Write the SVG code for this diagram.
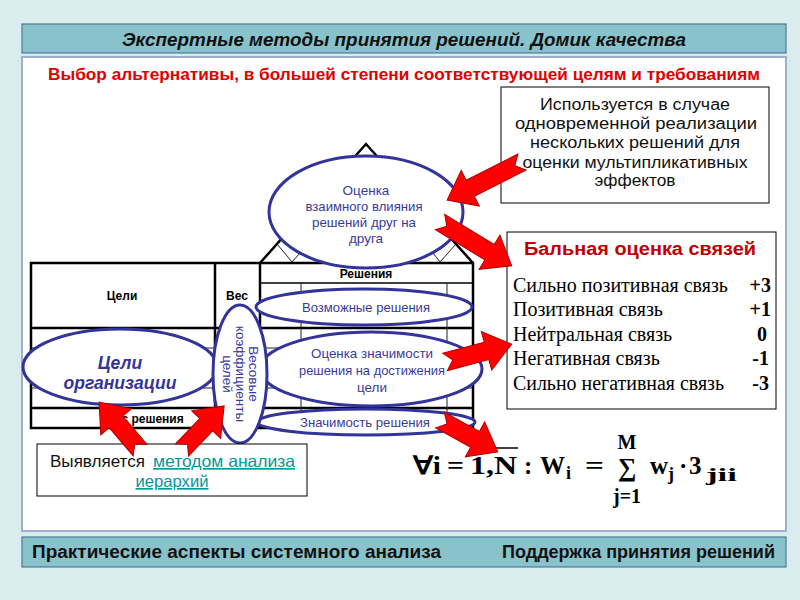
<svg xmlns="http://www.w3.org/2000/svg" width="800" height="600" viewBox="0 0 800 600">
<style>
.bar{fill:#88c3cc;stroke:#4a7d96;stroke-width:1.2}
.hdr{font-family:"Liberation Sans",Arial,sans-serif;font-weight:bold;fill:#111}
.tb{fill:none;stroke:#000;stroke-width:2.5}
.tt{fill:none;stroke:#222;stroke-width:1}
.th{font-family:"Liberation Sans",Arial,sans-serif;font-weight:bold;font-size:12px;fill:#000;text-anchor:middle}
.el{fill:#fff;stroke:#333399;stroke-width:3}
.et{font-family:"Liberation Sans",Arial,sans-serif;font-size:13.5px;fill:#3a3a99;text-anchor:middle}
.arr{fill:#ff0000;stroke:#b00000;stroke-width:1}
.box{fill:#fff;stroke:#000;stroke-width:1}
.bt{font-family:"Liberation Sans",Arial,sans-serif;font-size:16px;fill:#111;text-anchor:middle}
.sr{font-family:"Liberation Serif","Times New Roman",serif;font-size:20px;fill:#000}
.fm{font-family:"Liberation Serif","Times New Roman",serif;font-weight:bold;fill:#000}
.lk{font-family:"Liberation Sans",Arial,sans-serif;font-size:16.5px;fill:#009999;text-decoration:underline}
</style>
<rect x="0" y="0" width="800" height="600" fill="#dbecef"/>
<g id="title">
<rect class="bar" x="22" y="24" width="764" height="29"/>
<text class="hdr" x="404" y="46" font-size="19" font-style="italic" text-anchor="middle" textLength="564" lengthAdjust="spacingAndGlyphs">Экспертные методы принятия решений. Домик качества</text>
</g>
<rect x="22" y="57" width="764" height="474" fill="#fff" stroke="#8799c4" stroke-width="1.5"/>
<text x="404" y="80" font-family="Liberation Sans,Arial,sans-serif" font-weight="bold" font-size="16.5" fill="#e00000" text-anchor="middle" textLength="712" lengthAdjust="spacingAndGlyphs">Выбор альтернативы, в большей степени соответствующей целям и требованиям</text>

<g id="house">
<polyline class="tb" points="260,263 366,144 473,263"/>
<polyline class="tt" points="277,244 292,262 300,253"/>
<polyline class="tt" points="433,253 440,262 456,244"/>
<rect class="tb" x="31" y="263" width="442" height="165"/>
<line class="tb" x1="215" y1="263" x2="215" y2="408"/>
<line class="tb" x1="260" y1="263" x2="260" y2="428"/>
<line x1="260" y1="283" x2="473" y2="283" stroke="#000" stroke-width="1.5"/>
<line class="tb" x1="31" y1="328" x2="473" y2="328"/>
<line class="tt" x1="31" y1="348" x2="473" y2="348"/>
<line class="tt" x1="31" y1="388" x2="473" y2="388"/>
<line class="tb" x1="31" y1="408" x2="473" y2="408"/>
<line class="tt" x1="301" y1="283" x2="301" y2="428"/>
<line class="tt" x1="447" y1="283" x2="447" y2="428"/>
<text class="th" x="122" y="300">Цели</text>
<text class="th" x="237" y="300">Вес</text>
<text class="th" x="366" y="278">Решения</text>
<text class="th" x="145" y="423">Вес решения</text>
</g>

<g id="n-vliyanie">
<ellipse class="el" cx="366" cy="212" rx="97" ry="56"/>
<text class="et" x="366" y="195">Оценка</text>
<text class="et" x="364" y="211" textLength="117" lengthAdjust="spacingAndGlyphs">взаимного влияния</text>
<text class="et" x="364" y="227" textLength="104" lengthAdjust="spacingAndGlyphs">решений  друг на</text>
<text class="et" x="366" y="243">друга</text>
</g>
<g id="n-vozmozhnye">
<ellipse class="el" cx="364" cy="307" rx="108" ry="18"/>
<text class="et" x="366" y="312" textLength="128" lengthAdjust="spacingAndGlyphs">Возможные решения</text>
</g>
<g id="n-ocenka">
<ellipse class="el" cx="371" cy="369" rx="111" ry="37"/>
<text class="et" x="372" y="358" textLength="122" lengthAdjust="spacingAndGlyphs">Оценка значимости</text>
<text class="et" x="372" y="375" textLength="146" lengthAdjust="spacingAndGlyphs">решения на достижения</text>
<text class="et" x="372" y="392">цели</text>
</g>
<g id="n-znachimost">
<ellipse class="el" cx="366" cy="422" rx="109" ry="13"/>
<text class="et" x="365" y="427" textLength="130" lengthAdjust="spacingAndGlyphs">Значимость решения</text>
</g>
<g id="n-tseli">
<ellipse class="el" cx="120" cy="367" rx="97" ry="38"/>
<text x="120" y="369" font-family="Liberation Sans,Arial,sans-serif" font-size="17.5" font-weight="bold" font-style="italic" fill="#333399" text-anchor="middle">Цели</text>
<text x="120" y="389" font-family="Liberation Sans,Arial,sans-serif" font-size="17.5" font-weight="bold" font-style="italic" fill="#333399" text-anchor="middle">организации</text>
</g>
<g id="n-vesovye">
<ellipse class="el" cx="240" cy="374" rx="27" ry="69"/>
<g transform="translate(240,374) rotate(90)">
<text class="et" x="0" y="-9" font-size="12.5">Весовые</text>
<text class="et" x="0" y="4" font-size="12.5">коэффициенты</text>
<text class="et" x="0" y="17" font-size="12.5">целей</text>
</g>
</g>

<g id="n-ispolzuetsya">
<rect class="box" x="501" y="87" width="268" height="116"/>
<text class="bt" x="635" y="110" textLength="190" lengthAdjust="spacingAndGlyphs">Используется в случае</text>
<text class="bt" x="636" y="129" textLength="242" lengthAdjust="spacingAndGlyphs">одновременной  реализации</text>
<text class="bt" x="635" y="148" textLength="210" lengthAdjust="spacingAndGlyphs">нескольких  решений  для</text>
<text class="bt" x="635" y="168" textLength="225" lengthAdjust="spacingAndGlyphs">оценки мультипликативных</text>
<text class="bt" x="635" y="186" textLength="81" lengthAdjust="spacingAndGlyphs">эффектов</text>
</g>

<g id="n-ballnaya">
<rect class="box" x="507" y="232" width="269" height="177"/>
<text x="640" y="255" font-family="Liberation Sans,Arial,sans-serif" font-weight="bold" font-size="18" fill="#c00000" text-anchor="middle" textLength="232" lengthAdjust="spacingAndGlyphs">Бальная оценка связей</text>
<text class="sr" x="513" y="292" textLength="215" lengthAdjust="spacingAndGlyphs">Сильно позитивная связь</text>
<text class="sr" x="513" y="316">Позитивная связь</text>
<text class="sr" x="513" y="341">Нейтральная связь</text>
<text class="sr" x="513" y="365">Негативная связь</text>
<text class="sr" x="513" y="390" textLength="211" lengthAdjust="spacingAndGlyphs">Сильно негативная связь</text>
<g font-weight="bold" text-anchor="end">
<text class="sr" x="771" y="292">+3</text>
<text class="sr" x="771" y="316">+1</text>
<text class="sr" x="767" y="341">0</text>
<text class="sr" x="769" y="365">-1</text>
<text class="sr" x="769" y="390">-3</text>
</g>
</g>

<g id="n-vyyavlyaetsya">
<rect class="box" x="37" y="444" width="270" height="52"/>
<text x="50" y="467" font-family="Liberation Sans,Arial,sans-serif" font-size="16.5" fill="#111" textLength="95" lengthAdjust="spacingAndGlyphs">Выявляется</text>
<text class="lk" x="153" y="467" textLength="142" lengthAdjust="spacingAndGlyphs">методом  анализа</text>
<text class="lk" x="172" y="487" text-anchor="middle" textLength="73" lengthAdjust="spacingAndGlyphs">иерархий</text>
</g>

<g id="formula" class="fm">
<text x="413" y="474" font-size="25" textLength="28" lengthAdjust="spacingAndGlyphs">∀i</text>
<text x="447" y="474" font-size="25" textLength="17" lengthAdjust="spacingAndGlyphs">=</text>
<text x="470" y="474" font-size="25" textLength="47" lengthAdjust="spacingAndGlyphs">1,N</text>
<line x1="477" y1="448" x2="518" y2="448" stroke="#000" stroke-width="1.5"/>
<text x="524" y="474" font-size="25">:</text>
<text x="540" y="474" font-size="25" textLength="25" lengthAdjust="spacingAndGlyphs">W</text>
<text x="566" y="479" font-size="18">i</text>
<text x="585" y="474" font-size="25" textLength="19" lengthAdjust="spacingAndGlyphs">=</text>
<text x="627" y="449" font-size="20" text-anchor="middle">M</text>
<text x="627" y="476" font-size="26" text-anchor="middle">∑</text>
<text x="627" y="503" font-size="20" text-anchor="middle">j=1</text>
<text x="650" y="474" font-size="25">w</text>
<text x="668" y="480" font-size="18">j</text>
<text x="679" y="474" font-size="25">·</text>
<text x="689" y="474" font-size="25">3</text>
<text x="706" y="481" font-size="18" textLength="31" lengthAdjust="spacingAndGlyphs">jii</text>
</g>

<g id="connectors">
<path class="arr" transform="translate(522,162) rotate(153.1)" d="M0,-9 L58,-9 L58,-20 L84,0 L58,20 L58,9 L0,9 L8,0 Z"/>
<path class="arr" transform="translate(440,222) rotate(31.4)" d="M0,-9 L58,-9 L58,-20 L84,0 L58,20 L58,9 L0,9 L8,0 Z"/>
<path class="arr" transform="translate(445,362) rotate(-15)" d="M0,-9 L43,-9 L43,-20 L69,0 L43,20 L43,9 L0,9 L8,0 Z"/>
<path class="arr" transform="translate(440,420) rotate(28.9)" d="M0,-9 L40,-9 L40,-20 L66,0 L40,20 L40,9 L0,9 L8,0 Z"/>
<path class="arr" transform="translate(140,450) rotate(-130.5)" d="M0,-9 L37,-9 L37,-20 L63,0 L37,20 L37,9 L0,9 L8,0 Z"/>
<path class="arr" transform="translate(182,450) rotate(-46.3)" d="M0,-9 L35,-9 L35,-20 L61,0 L35,20 L35,9 L0,9 L8,0 Z"/>
</g>

<g id="footer">
<rect class="bar" x="22" y="537" width="764" height="30"/>
<text class="hdr" x="32" y="558" font-size="18" textLength="409" lengthAdjust="spacingAndGlyphs">Практические аспекты системного анализа</text>
<text class="hdr" x="775" y="558" font-size="18" text-anchor="end" textLength="273" lengthAdjust="spacingAndGlyphs">Поддержка принятия решений</text>
</g>
</svg>
